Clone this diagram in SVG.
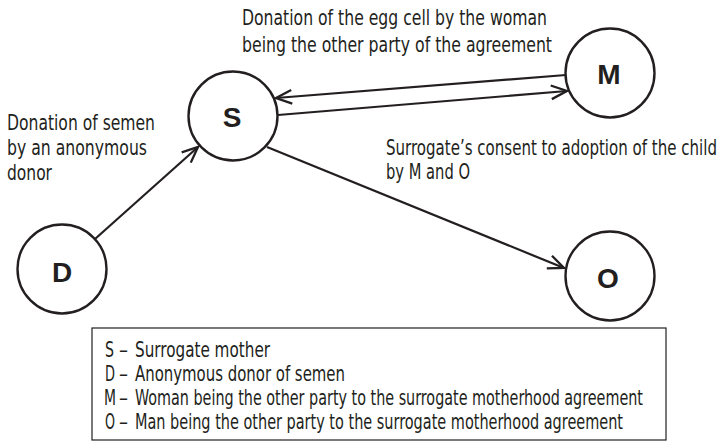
<svg xmlns="http://www.w3.org/2000/svg" width="723" height="441" viewBox="0 0 723 441">
  <style>
    .node { fill: #ffffff; stroke: #231f20; stroke-width: 2.4; }
    .letter { font-family: "Liberation Sans", Arial, sans-serif; font-weight: bold; font-size: 28px; fill: #231f20; text-anchor: middle; }
    .label { font-family: "Liberation Sans Narrow", "DejaVu Sans Condensed", "Liberation Sans", sans-serif; font-size: 21px; fill: #231f20; }
    .edge { stroke: #231f20; stroke-width: 2.2; fill: none; marker-end: url(#chev); }
    .legend-box { fill: #ffffff; stroke: #231f20; stroke-width: 1.2; }
  </style>
  <defs>
    <marker id="chev" markerUnits="userSpaceOnUse" markerWidth="20" markerHeight="20" viewBox="-17 -9 19 18" refX="0" refY="0" orient="auto">
      <path d="M-15,-6.5 L0,0 L-15,6.5" fill="none" stroke="#231f20" stroke-width="2.2" stroke-linejoin="miter"/>
    </marker>
  </defs>

  <rect width="723" height="441" fill="#ffffff"/>

  <!-- connectors -->
  <g id="connectors">
    <line class="edge" x1="95" y1="239" x2="198" y2="147"/>
    <line class="edge" x1="566" y1="75" x2="276" y2="98"/>
    <line class="edge" x1="278" y1="115" x2="567" y2="91"/>
    <line class="edge" x1="267" y1="147" x2="564" y2="268"/>
  </g>

  <!-- nodes -->
  <g id="node-S">
    <circle class="node" cx="233" cy="116" r="44.5"/>
    <text class="letter" x="232" y="127">S</text>
  </g>
  <g id="node-D">
    <circle class="node" cx="62" cy="269" r="44.5"/>
    <text class="letter" x="62" y="282">D</text>
  </g>
  <g id="node-M">
    <circle class="node" cx="610" cy="73" r="44.5"/>
    <text class="letter" x="609" y="84">M</text>
  </g>
  <g id="node-O">
    <circle class="node" cx="610" cy="276" r="44.5"/>
    <text class="letter" x="608" y="288">O</text>
  </g>

  <!-- edge labels -->
  <g id="label-egg" class="label">
    <text x="242" y="25" textLength="305" lengthAdjust="spacingAndGlyphs">Donation of the egg cell by the woman</text>
    <text x="242" y="52" textLength="310" lengthAdjust="spacingAndGlyphs">being the other party of the agreement</text>
  </g>
  <g id="label-semen" class="label">
    <text x="7" y="130" textLength="148" lengthAdjust="spacingAndGlyphs">Donation of semen</text>
    <text x="7" y="155" textLength="140" lengthAdjust="spacingAndGlyphs">by an anonymous</text>
    <text x="7" y="180" textLength="45" lengthAdjust="spacingAndGlyphs">donor</text>
  </g>
  <g id="label-consent" class="label">
    <text x="386" y="155" textLength="331" lengthAdjust="spacingAndGlyphs">Surrogate’s consent to adoption of the child</text>
    <text x="386" y="179" textLength="84" lengthAdjust="spacingAndGlyphs">by M and O</text>
  </g>

  <!-- legend -->
  <g id="legend">
    <rect class="legend-box" x="92" y="328" width="574" height="112"/>
    <g class="label">
      <text x="105" y="357" textLength="9" lengthAdjust="spacingAndGlyphs">S</text>
      <text x="119" y="357" textLength="9" lengthAdjust="spacingAndGlyphs">–</text>
      <text x="135" y="357" textLength="135" lengthAdjust="spacingAndGlyphs">Surrogate mother</text>
      <text x="105" y="381" textLength="10" lengthAdjust="spacingAndGlyphs">D</text>
      <text x="119" y="381" textLength="9" lengthAdjust="spacingAndGlyphs">–</text>
      <text x="135" y="381" textLength="210" lengthAdjust="spacingAndGlyphs">Anonymous donor of semen</text>
      <text x="104" y="405" textLength="12" lengthAdjust="spacingAndGlyphs">M</text>
      <text x="119" y="405" textLength="9" lengthAdjust="spacingAndGlyphs">–</text>
      <text x="135" y="405" textLength="508" lengthAdjust="spacingAndGlyphs">Woman being the other party to the surrogate motherhood agreement</text>
      <text x="105" y="429" textLength="10" lengthAdjust="spacingAndGlyphs">O</text>
      <text x="119" y="429" textLength="9" lengthAdjust="spacingAndGlyphs">–</text>
      <text x="135" y="429" textLength="488" lengthAdjust="spacingAndGlyphs">Man being the other party to the surrogate motherhood agreement</text>
    </g>
  </g>
</svg>
